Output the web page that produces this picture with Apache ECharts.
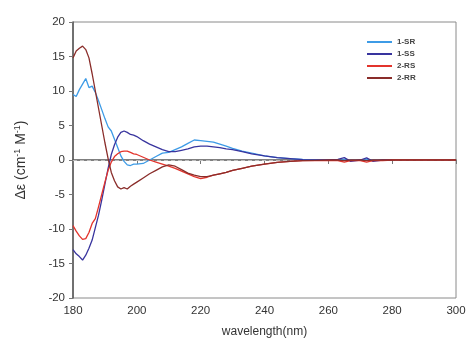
<!DOCTYPE html>
<html>
<head>
<meta charset="utf-8">
<script src="https://cdn.jsdelivr.net/npm/echarts@6/dist/echarts.min.js"></script>
<style>
  html, body { margin: 0; padding: 0; background: #fff; }
  #chart { width: 470px; height: 344px; }
</style>
</head>
<body>
<div id="chart"></div>
<script>
// CD spectra: wavelength (nm) against Δε
const wavelength = [180,181,182,183,184,185,186,187,188,189,190,191,192,193,194,195,196,197,198,199,
  200,202,204,206,208,210,212,214,216,218,220,222,224,226,228,230,233,236,240,244,248,252,256,260,
  263,265,267,270,272,274,277,280,285,290,295,300];

const sr1 = [9.5,9.2,10.2,11.0,11.8,10.5,10.7,9.8,8.6,7.3,6.0,4.8,4.2,3.0,1.8,0.6,-0.2,-0.7,-0.8,-0.6,
  -0.6,-0.5,0.0,0.5,1.0,1.1,1.5,1.9,2.4,2.9,2.8,2.7,2.6,2.3,2.0,1.7,1.3,1.0,0.6,0.35,0.2,0.1,0.05,0.0,
  0.0,0.1,0.0,0.0,0.1,0.0,0.0,0.0,null,null,null,null];

const ss1 = [-13.0,-13.6,-14.0,-14.5,-13.8,-12.8,-11.6,-9.8,-8.0,-5.8,-3.5,-1.2,0.8,2.2,3.3,4.0,4.2,4.0,3.7,3.6,
  3.4,2.8,2.3,1.9,1.5,1.2,1.2,1.4,1.6,1.9,2.0,2.0,1.9,1.8,1.6,1.5,1.2,0.9,0.6,0.35,0.2,0.05,0.0,0.0,
  0.1,0.35,-0.2,0.0,0.3,-0.2,0.0,0.0,null,null,null,null];

const rs2 = [-9.5,-10.3,-11.0,-11.5,-11.4,-10.5,-9.2,-8.5,-6.8,-5.0,-3.2,-1.5,-0.3,0.5,0.9,1.2,1.3,1.3,1.1,0.9,
  0.8,0.4,0.0,-0.3,-0.6,-0.9,-1.2,-1.6,-2.0,-2.4,-2.7,-2.5,-2.2,-2.0,-1.8,-1.5,-1.2,-0.9,-0.6,-0.35,-0.2,-0.1,-0.1,-0.1,
  -0.1,-0.3,-0.1,-0.1,-0.3,-0.1,-0.1,0.0,0.0,0.0,0.0,0.0];

const rr2 = [14.8,15.8,16.2,16.5,16.0,14.8,12.5,10.0,7.5,5.0,2.5,0.2,-1.8,-3.0,-3.9,-4.2,-4.0,-4.2,-3.8,-3.5,
  -3.2,-2.6,-2.0,-1.5,-1.0,-0.7,-0.9,-1.4,-1.9,-2.2,-2.4,-2.4,-2.2,-2.0,-1.8,-1.5,-1.2,-0.9,-0.6,-0.35,-0.2,-0.1,-0.05,0.0,
  0.0,-0.1,0.0,0.0,-0.1,0.0,0.0,0.0,0.0,0.0,0.0,0.0];

const seriesNames = ['1-SR', '1-SS', '2-RS', '2-RR'];
const seriesValues = [sr1, ss1, rs2, rr2];
const seriesColors = ['#3d9be6', '#38349e', '#e3342c', '#8a2d2a'];

const xTicks = [180, 200, 220, 240, 260, 280, 300];
const yTicks = [-20, -15, -10, -5, 0, 5, 10, 15, 20];

const chart = echarts.init(document.getElementById('chart'));

const series = seriesNames.map((name, i) => ({
  name: name,
  type: 'line',
  data: wavelength.map((w, k) => [w, seriesValues[i][k]]),
  showSymbol: false,
  symbol: 'none',
  connectNulls: false,
  lineStyle: { color: seriesColors[i], width: 1.3 },
  itemStyle: { color: seriesColors[i] },
  z: 3 + i
}));

// dashed zero reference line
series[0].markLine = {
  silent: true,
  symbol: 'none',
  label: { show: false },
  lineStyle: { color: '#bdbdbd', type: [4, 3], width: 1 },
  data: [{ yAxis: 0 }],
  z: 1
};

chart.setOption({
  animation: false,
  backgroundColor: '#fff',
  textStyle: { fontFamily: 'Liberation Sans, Arial, sans-serif' },
  grid: {
    left: 73, right: 14, top: 22, bottom: 46,
    show: true, borderColor: '#8a8a8a', borderWidth: 1
  },
  legend: {
    orient: 'vertical',
    left: 362, top: 33,
    itemWidth: 25, itemHeight: 2, itemGap: 4,
    icon: 'rect',
    textStyle: { fontSize: 8, fontWeight: 'bold', color: '#444', padding: [0, 0, 0, 0] },
    data: seriesNames
  },
  xAxis: {
    type: 'value',
    min: xTicks[0], max: xTicks[xTicks.length - 1], interval: 20,
    name: 'wavelength(nm)',
    nameLocation: 'middle', nameGap: 28,
    nameTextStyle: { fontSize: 12, color: '#333' },
    axisLine: { lineStyle: { color: '#555', width: 1.5 } },
    axisTick: { show: true, length: 4, lineStyle: { color: '#777' } },
    axisLabel: { fontSize: 11.5, color: '#333', margin: 7 },
    splitLine: { show: false }
  },
  yAxis: {
    type: 'value',
    min: yTicks[0], max: yTicks[yTicks.length - 1], interval: 5,
    name: 'Δε (cm{sup|-1} M{sup|-1})',
    nameLocation: 'middle', nameGap: 44, nameRotate: 90,
    nameTextStyle: {
      fontSize: 14, color: '#333',
      rich: { sup: { fontSize: 9, verticalAlign: 'top', color: '#333', padding: [0, 0, 7, 0] } }
    },
    axisLine: { show: true, lineStyle: { color: '#555', width: 1.5 } },
    axisTick: { show: true, length: 4, lineStyle: { color: '#777' } },
    axisLabel: { fontSize: 11.5, color: '#333', margin: 8 },
    splitLine: { show: false }
  },
  series: series
});
</script>
</body>
</html>
